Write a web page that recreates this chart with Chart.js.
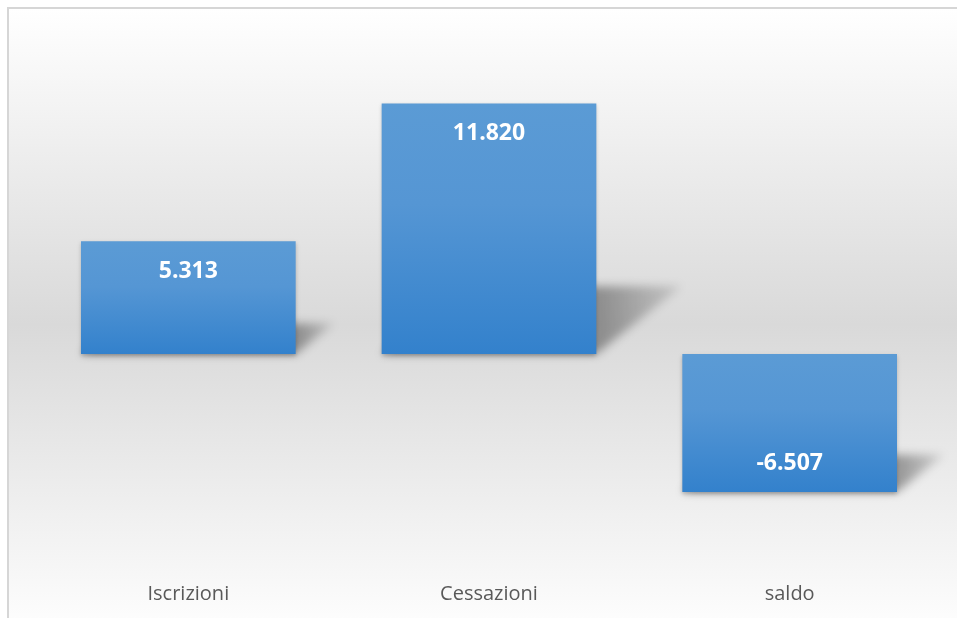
<!DOCTYPE html>
<html>
<head>
<meta charset="utf-8">
<script src="https://cdn.jsdelivr.net/npm/chart.js@4/dist/chart.umd.min.js"></script>
<style>
  html, body { margin: 0; padding: 0; background: #fff; }
  #wrap { width: 957px; height: 618px; position: relative; }
</style>
</head>
<body>
<div id="wrap"><canvas id="movChart" width="957" height="618"></canvas></div>
<script>
const categories = ["Iscrizioni", "Cessazioni", "saldo"];
const values = [5313, 11820, -6507];
const axisMin = -10000;
const axisMax = 15000;

// 5313 -> "5.313"
function formatIt(n) {
  const s = Math.abs(n).toString().replace(/\B(?=(\d{3})+(?!\d))/g, ".");
  return (n < 0 ? "-" : "") + s;
}

// sfondo con cornice e sfumatura grigia al centro
const frameBg = {
  id: "frameBg",
  beforeDraw(chart) {
    const ctx = chart.ctx;
    const w = chart.width, h = chart.height;
    ctx.save();
    ctx.fillStyle = "#ffffff";
    ctx.fillRect(0, 0, w, h);
    const g = ctx.createLinearGradient(0, 9, 0, 640);
    g.addColorStop(0, "#ffffff");
    g.addColorStop(0.5, "#d9d9d9");
    g.addColorStop(1, "#ffffff");
    ctx.fillStyle = g;
    ctx.fillRect(9, 9, w - 9, h - 9);
    ctx.strokeStyle = "#d6d6d6";
    ctx.lineWidth = 2;
    ctx.beginPath();
    ctx.moveTo(8, h);
    ctx.lineTo(8, 8);
    ctx.lineTo(w, 8);
    ctx.stroke();
    ctx.restore();
  }
};

// ombra prospettica dietro ogni barra
const barShadow = {
  id: "barShadow",
  beforeDatasetsDraw(chart) {
    const ctx = chart.ctx;
    chart.getDatasetMeta(0).data.forEach(el => {
      const p = el.getProps(["x", "y", "base", "width"], true);
      const L = p.x - p.width / 2, R = p.x + p.width / 2;
      const T = Math.min(p.y, p.base), B = Math.max(p.y, p.base);
      const h = B - T;
      const dx = 0.34 * h, dy = 0.27 * h;
      ctx.save();
      ctx.filter = "blur(5px)";
      const g = ctx.createLinearGradient(R, 0, R + dx, 0);
      g.addColorStop(0, "rgba(0,0,0,0.36)");
      g.addColorStop(1, "rgba(0,0,0,0.10)");
      ctx.fillStyle = g;
      ctx.beginPath();
      ctx.moveTo(L, B);
      ctx.lineTo(R, B);
      ctx.lineTo(R + dx, B - dy);
      ctx.lineTo(L + dx, B - dy);
      ctx.closePath();
      ctx.fill();
      ctx.restore();
    });
  },
  beforeDatasetDraw(chart) {
    const ctx = chart.ctx;
    ctx.save();
    ctx.shadowColor = "rgba(0,0,0,0.22)";
    ctx.shadowBlur = 4;
    ctx.shadowOffsetY = 2;
  },
  afterDatasetDraw(chart) {
    chart.ctx.restore();
  }
};

// etichette valore dentro l'estremità della barra
const valueLabels = {
  id: "valueLabels",
  afterDatasetsDraw(chart) {
    const ctx = chart.ctx;
    ctx.save();
    ctx.fillStyle = "#ffffff";
    ctx.font = "bold 23px 'Open Sans'";
    ctx.textAlign = "center";
    ctx.textBaseline = "middle";
    chart.getDatasetMeta(0).data.forEach((el, i) => {
      const p = el.getProps(["x", "y"], true);
      const v = values[i];
      const y = v >= 0 ? p.y + 30 : p.y - 28;
      ctx.fillText(formatIt(v), p.x, y);
    });
    ctx.restore();
  }
};

function barFill(c) {
  const chart = c.chart;
  const area = chart.chartArea;
  if (!area) return "#4a8fd2";
  const ys = chart.scales.y;
  const v = values[c.dataIndex];
  const top = ys.getPixelForValue(Math.max(v, 0));
  const bot = ys.getPixelForValue(Math.min(v, 0));
  const g = chart.ctx.createLinearGradient(0, top, 0, bot);
  g.addColorStop(0, "#5b9bd5");
  g.addColorStop(0.4, "#5596d4");
  g.addColorStop(1, "#3381cc");
  return g;
}

new Chart(document.getElementById("movChart"), {
  type: "bar",
  data: {
    labels: categories,
    datasets: [{
      data: values,
      backgroundColor: barFill,
      borderWidth: 0,
      categoryPercentage: 1,
      barPercentage: 0.714
    }]
  },
  options: {
    responsive: false,
    animation: false,
    layout: { padding: { left: 38, right: 17, top: 36, bottom: 12 } },
    plugins: {
      legend: { display: false },
      tooltip: { enabled: false }
    },
    scales: {
      x: {
        grid: { display: false, drawTicks: false },
        border: { display: false },
        ticks: {
          color: "#595959",
          font: { family: "'Open Sans'", size: 20 },
          padding: 16
        },
        afterFit(scale) {
          scale.height = 40;
        }
      },
      y: {
        display: false,
        min: axisMin,
        max: axisMax
      }
    }
  },
  plugins: [frameBg, barShadow, valueLabels]
});
</script>
</body>
</html>
